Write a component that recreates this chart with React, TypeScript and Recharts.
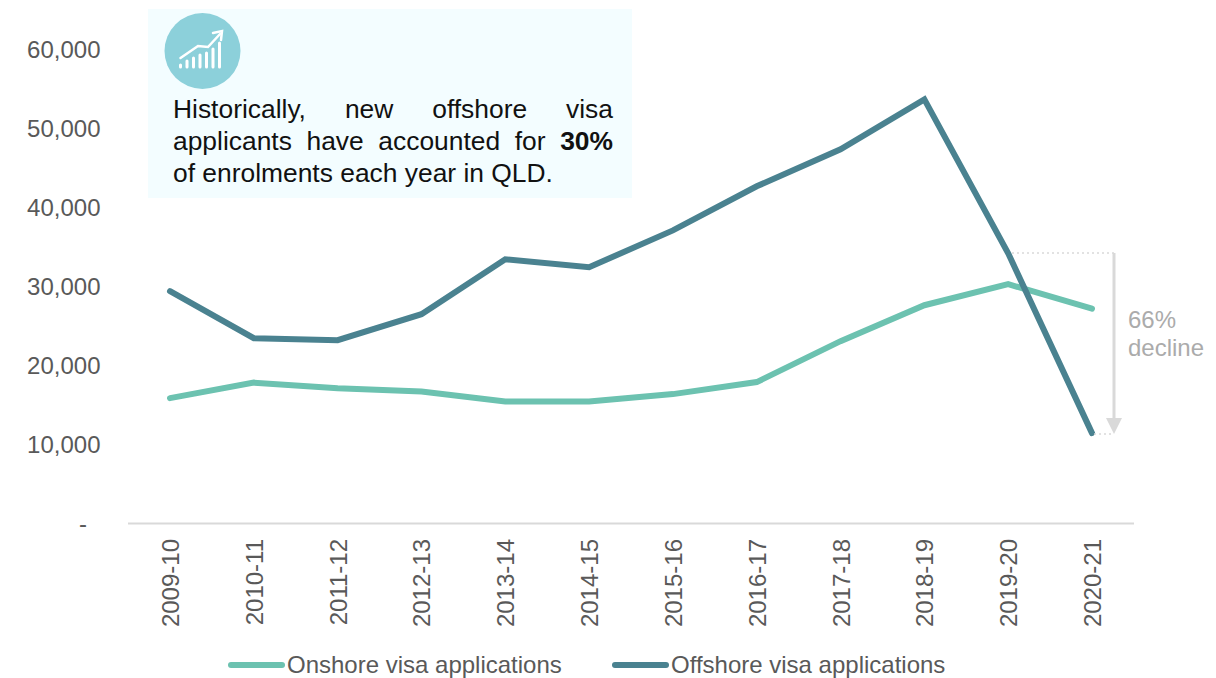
import { LineChart, Line, XAxis, YAxis } from 'recharts';

const years = ['2009-10', '2010-11', '2011-12', '2012-13', '2013-14', '2014-15', '2015-16', '2016-17', '2017-18', '2018-19', '2019-20', '2020-21'];
const onshore = [15870, 17830, 17130, 16700, 15430, 15430, 16380, 17900, 23080, 27630, 30290, 27190];
const offshore = [29400, 23460, 23200, 26500, 33450, 32440, 37100, 42680, 47360, 53680, 34200, 11440];
const yTicks = [0, 10000, 20000, 30000, 40000, 50000, 60000];

const chartData = years.map((year, i) => ({ year, onshore: onshore[i], offshore: offshore[i] }));

const FONT = '"Liberation Sans", Arial, sans-serif';
const TEXT = '#595959';
const ONSHORE = '#6CC2B0';
const OFFSHORE = '#4A8290';
const GREY = '#D9D9D9';

const legendItems = [
  { label: 'Onshore visa applications', color: ONSHORE, left: 228 },
  { label: 'Offshore visa applications', color: OFFSHORE, left: 612 },
];

function YTick({ y, payload }: any) {
  const isZero = payload.value === 0;
  return (
    <text x={isZero ? 87 : 100.5} y={y + 8} textAnchor="end" fontSize={24} fill={TEXT} fontFamily={FONT}>
      {isZero ? '-' : payload.value.toLocaleString('en-US')}
    </text>
  );
}

function XTick({ x, y, payload }: any) {
  return (
    <text transform={`translate(${x + 9},${y + 7.5}) rotate(-90)`} textAnchor="end" fontSize={24} fill={TEXT} fontFamily={FONT}>
      {payload.value}
    </text>
  );
}

function ChartLegend() {
  return (
    <div style={{ position: 'absolute', left: 0, top: 651, width: 1216, height: 30, fontFamily: FONT, fontSize: 24, color: TEXT }}>
      {legendItems.map((item) => (
        <div key={item.label} style={{ position: 'absolute', left: item.left, top: 0, display: 'flex', alignItems: 'center', whiteSpace: 'nowrap' }}>
          <span style={{ display: 'inline-block', width: 57, height: 6, borderRadius: 3, background: item.color, marginRight: 2 }} />
          {item.label}
        </div>
      ))}
    </div>
  );
}

function Callout() {
  const justified = { textAlign: 'justify', textAlignLast: 'justify' } as const;
  return (
    <div style={{ position: 'absolute', left: 148, top: 9, width: 484, height: 189, background: '#F3FDFF', fontFamily: FONT, color: '#111' }}>
      <svg width={484} height={189} style={{ position: 'absolute', left: 0, top: 0 }}>
        <circle cx={54.5} cy={42} r={38} fill="#8CD0DA" />
        <g stroke="#fff" strokeWidth={3} strokeLinecap="round" fill="none">
          <path d="M32.500 58v-2M39 58v-6M45.500 58v-9M52 58v-12M58.500 58v-14M65 58v-18M71.500 58v-24" />
          <path d="M32.500 49L50 37L60 38L72 25" strokeWidth={2.500} />
          <path d="M65 24L74 22L73 31" strokeWidth={2.500} />
        </g>
      </svg>
      <div style={{ position: 'absolute', left: 25, top: 84, width: 440, fontSize: 26.4, lineHeight: '32px' }}>
        <div style={justified}>Historically, new offshore visa</div>
        <div style={justified}>applicants have accounted for <b>30%</b></div>
        <div>of enrolments each year in QLD.</div>
      </div>
    </div>
  );
}

function DeclineNote() {
  return (
    <>
      <svg width={1216} height={678} style={{ position: 'absolute', left: 0, top: 0, pointerEvents: 'none' }}>
        <path d="M1012 253H1114M1094 434H1112" stroke={GREY} strokeWidth={1.500} strokeDasharray="2 3" fill="none" />
        <path d="M1114 253V420" stroke={GREY} strokeWidth={3} fill="none" />
        <path d="M1106 418H1122L1114 434Z" fill={GREY} />
      </svg>
      <div style={{ position: 'absolute', left: 1128, top: 306, fontFamily: FONT, fontSize: 24, lineHeight: '28px', color: '#ABABAB' }}>
        66%
        <br />
        decline
      </div>
    </>
  );
}

export default function App() {
  return (
    <div style={{ position: 'absolute', left: 0, top: 0, width: 1216, height: 678, background: '#fff', overflow: 'hidden' }}>
      <LineChart width={1216} height={678} data={chartData} margin={{ top: 49.5, right: 82, bottom: 0, left: 0 }}>
        <XAxis dataKey="year" interval={0} padding={{ left: 42, right: 42 }} axisLine={{ stroke: GREY, strokeWidth: 2 }} tickLine={false} tick={<XTick />} height={154.5} />
        <YAxis width={128} domain={[0, 60000]} ticks={yTicks} axisLine={false} tickLine={false} tick={<YTick />} />
        <Line dataKey="onshore" name="Onshore visa applications" stroke={ONSHORE} strokeWidth={6} dot={false} strokeLinecap="round" isAnimationActive={false} />
        <Line dataKey="offshore" name="Offshore visa applications" stroke={OFFSHORE} strokeWidth={6} dot={false} strokeLinecap="round" isAnimationActive={false} />
      </LineChart>
      <ChartLegend />
      <Callout />
      <DeclineNote />
    </div>
  );
}
